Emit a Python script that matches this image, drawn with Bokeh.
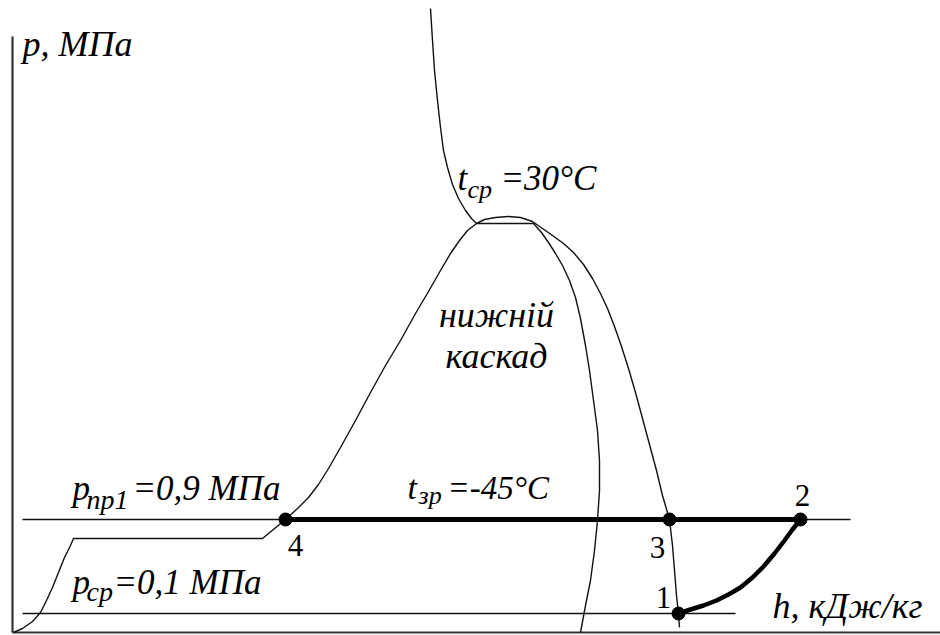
from bokeh.plotting import figure
from bokeh.models import Range1d
from bokeh.core.properties import value
from bokeh.embed import file_html
from bokeh.resources import INLINE

# ---- data (h in relative units, p in relative units, y up) ----
# isotherm t_cp = 30 C : liquid part, plateau, vapour part
iso_h = [430, 432, 434, 437, 440, 443, 447, 452, 458, 465, 471, 476, 533,
         541, 548, 555, 562, 569, 575, 580, 585, 589, 593, 597, 599, 599,
         597, 594, 590, 585, 580]
iso_p = [627, 595, 565, 535, 508, 485, 468, 451, 437, 425, 417, 412, 412,
         403, 393, 382, 370, 355, 338, 317, 290, 265, 235, 205, 175, 145,
         115, 85, 55, 30, 3]

# saturation dome (lower cascade) with the low-pressure step on the left
dome_h = [13, 22, 32, 40, 46, 52, 58, 64, 70, 73, 262, 285, 297, 308, 318,
          328, 340, 355, 370, 385, 400, 415, 428, 440, 450, 459, 467, 476,
          484, 495, 508, 520, 532, 542, 552, 563, 573, 583, 592, 600, 607,
          614, 621, 628, 635, 642, 649, 656, 662, 669, 672, 674, 676, 678, 679]
dome_p = [3, 7, 14, 23, 35, 48, 63, 78, 90, 97, 97, 116, 127, 138, 151,
          167, 188, 215, 243, 270, 295, 322, 344, 365, 382, 395, 405, 412,
          416, 418, 419, 418, 414, 407, 400, 392, 383, 371, 357, 342, 327,
          309, 289, 267, 243, 217, 191, 165, 140, 116, 90, 65, 40, 22, 8]

# pressure levels
p_np1 = 116
p_cp = 22
line_h_start = 22
np1_h_end = 850
cp_h_end = 735

# cycle points 1..4
pt_h = [678, 800, 669, 285]
pt_p = [22, 116, 116, 116]
pt_labels = ["1", "2", "3", "4"]

# compression 1 -> 2
comp_h = [678, 690, 703, 716, 728, 740, 752, 763, 774, 784, 792, 800]
comp_p = [22, 26, 30, 35, 41, 48, 58, 69, 82, 95, 106, 116]

# axes corner
ax_h0, ax_p0 = 12, 3
ax_top, ax_right = 599, 940

p = figure(width=940, height=635, output_backend="svg", toolbar_location=None,
           x_range=Range1d(0, 940), y_range=Range1d(0, 635),
           x_axis_location=None, y_axis_location=None, min_border=0)
p.outline_line_color = None
p.xgrid.visible = False
p.ygrid.visible = False
p.background_fill_color = "white"
p.border_fill_color = "white"

ink = "#111111"
# axes
p.line([ax_h0, ax_h0], [ax_p0, ax_top], line_color="#333333", line_width=2.2)
p.line([ax_h0, ax_right], [ax_p0, ax_p0], line_color="#333333", line_width=2.2)

# pressure lines
p.line([line_h_start, np1_h_end], [p_np1, p_np1], line_color=ink, line_width=1.4)
p.line([line_h_start, cp_h_end], [p_cp, p_cp], line_color=ink, line_width=1.4)

# curves
p.line(iso_h, iso_p, line_color=ink, line_width=1.4)
p.line(dome_h, dome_p, line_color=ink, line_width=1.4)

# cycle
p.line([pt_h[3], pt_h[1]], [pt_p[3], pt_p[1]], line_color="black", line_width=5)
p.line(comp_h, comp_p, line_color="black", line_width=4.5)
p.scatter(pt_h, pt_p, size=13, fill_color="black", line_color="black")

serif = value("Liberation Serif")

def txt(x, y, s, size, style="italic", align="left"):
    # y is the wanted baseline; compensate the renderer's baseline shift
    y_adj = y + 0.33 * size
    p.text(x=[x], y=[y_adj], text=[s], text_font=serif,
           text_font_size=f"{size}px", text_font_style=style,
           text_align=align, text_baseline="alphabetic", text_color="black")

txt(22, 580, "p, МПа", 36)
# t_cp = 30 C
txt(457, 445, "t", 35)
txt(467, 437, "ср", 26)
txt(500, 445, "=30°C", 35)
# lower cascade
txt(496, 309, "нижній", 36, align="center")
txt(496, 268, "каскад", 36, align="center")
# p_np1
txt(72, 135, "p", 35)
txt(86, 127, "пр1", 28)
txt(132, 135, "=0,9 МПа", 35)
# t_zp
txt(407, 137, "t", 34)
txt(418, 131, "зр", 26)
txt(447, 137, "=-45°C", 33)
# p_cp
txt(72, 41, "p", 35)
txt(86, 35, "ср", 28)
txt(113, 41, "=0,1 МПа", 35)
# h axis
txt(772, 18, "h, кДж/кг", 36)

# point labels
lab_dx = [-15, 2, -12, 10]
lab_dy = [6, 14, -38, -36]
for h, pp, s, dx, dy in zip(pt_h, pt_p, pt_labels, lab_dx, lab_dy):
    txt(h + dx, pp + dy, s, 31, style="normal", align="center")

open("out.html", "w").write(file_html(p, INLINE))
